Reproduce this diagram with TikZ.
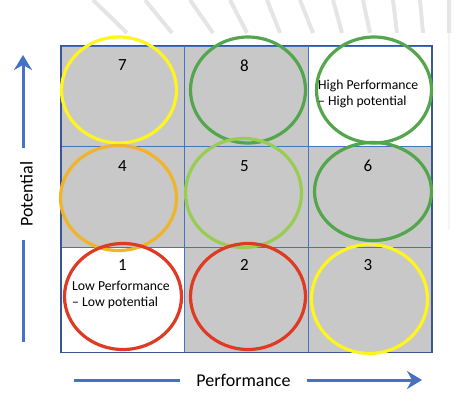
\documentclass[tikz,border=0pt]{standalone}
\usepackage{fontspec}
\setmainfont{Carlito}
\usetikzlibrary{arrows.meta,positioning,shapes.geometric}
\usepackage{xcolor}

\definecolor{gridblue}{RGB}{68,114,196}
\definecolor{frameblue}{RGB}{58,84,150}
\definecolor{cellgray}{RGB}{200,200,200}
\definecolor{ylw}{RGB}{255,245,30}
\definecolor{grn}{RGB}{84,166,76}
\definecolor{lgrn}{RGB}{152,204,82}
\definecolor{orng}{RGB}{240,180,40}
\definecolor{red1}{RGB}{222,58,36}

\begin{document}
\begin{tikzpicture}[
  x=1pt, y=-1pt,
  cell/.style={draw=gridblue, line width=0.8pt, fill=cellgray, inner sep=0pt,
    minimum width=123.7pt},
  frame/.style={draw=frameblue, line width=1.8pt},
  ring/.style={ellipse, draw, line width=3.2pt, inner sep=0pt,
    minimum width=115pt, minimum height=106pt},
  num/.style={font=\fontsize{17}{20}\selectfont, inner sep=0pt},
  note/.style={align=left, font=\fontsize{13.7}{16}\selectfont, inner sep=0pt},
  axislabel/.style={font=\fontsize{18}{21}\selectfont},
  axis/.style={draw=gridblue, line width=3pt},
  axisarrow/.style={-{Stealth[length=15pt,width=18pt,inset=5pt]}},
  backline/.style={draw=gray!20, line width=4pt}
]
\useasboundingbox (0,0) rectangle (462,401);

% faint background
\draw[backline] (93,0) -- (127,33) (145,0) -- (172,33) (190,0) -- (213,33)
  (230,0) -- (247,33) (267,0) -- (280,33) (300,0) -- (313,33)
  (333,0) -- (342,33) (363,0) -- (370,33) (393,0) -- (397,33)
  (420,0) -- (423,33) (449,0) -- (449,33);
\draw[gray!8, line width=2pt] (449,33) -- (449,230);

% grid
\node[cell, minimum height=100pt] (c7) at (123,96) {};
\node[cell, minimum height=100pt] (c8) at (246.5,96) {};
\node[cell, minimum height=100pt, fill=white] (c9) at (370,96) {};
\node[cell, minimum height=101pt] (c4) at (123,196.5) {};
\node[cell, minimum height=101pt] (c5) at (246.5,196.5) {};
\node[cell, minimum height=101pt] (c6) at (370,196.5) {};
\node[cell, minimum height=105pt, fill=white] (c1) at (123,299.5) {};
\node[cell, minimum height=105pt] (c2) at (246.5,299.5) {};
\node[cell, minimum height=105pt] (c3) at (370,299.5) {};
\draw[frame] (c7.north west) rectangle (c3.south east);

% circles
\node[ring, draw=ylw] (e7) at (119,90) {};
\node[ring, draw=grn] (e8) at (248,90) {};
\node[ring, draw=grn] (e9) at (374,90) {};
\node[ring, draw=orng, minimum width=116pt, minimum height=105pt] (e4) at (118.5,198) {};
\node[ring, draw=lgrn, minimum width=116pt, minimum height=109pt] (e5) at (243.5,193) {};
\node[ring, draw=grn, minimum width=117pt, minimum height=98pt] (e6) at (373,191.5) {};
\node[ring, draw=red1, minimum width=117pt] (e1) at (123,296.5) {};
\node[ring, draw=red1] (e2) at (248,296.5) {};
\node[ring, draw=ylw, minimum width=116pt, minimum height=109pt] (e3) at (369.5,299) {};

% numbers and notes
\node[num] (n7) at (122.5,65.5) {7};
\node[num] (n8) at (244.5,65.5) {8};
\node[num] (n4) at (122.5,166) {4};
\node[num] (n5) at (244.5,166) {5};
\node[num] (n6) at (368,166) {6};
\node[num] (n1) at (122.5,265) {1};
\node[num] (n2) at (244.5,265) {2};
\node[num] (n3) at (368,265) {3};
\node[note, anchor=west] (hh) at (318,94) {High Performance\\– High potential};
\node[note, anchor=west] (ll) at (72,295) {Low Performance\\– Low potential};

% axes
\node[axislabel, rotate=90, inner xsep=13pt] (pot) at (26.5,194) {Potential};
\coordinate (ptop) at (23,55);
\coordinate (pbot) at (23,342);
\draw[axis, axisarrow] (pot.east -| ptop) -- (ptop);
\draw[axis] (pot.west -| pbot) -- (pbot);

\node[axislabel, inner xsep=16pt] (perf) at (243.5,380) {Performance};
\coordinate (pleft) at (74,380);
\coordinate (pright) at (422,380);
\draw[axis] (perf.west) -- (pleft);
\draw[axis, axisarrow] (perf.east) -- (pright);
\end{tikzpicture}
\end{document}
